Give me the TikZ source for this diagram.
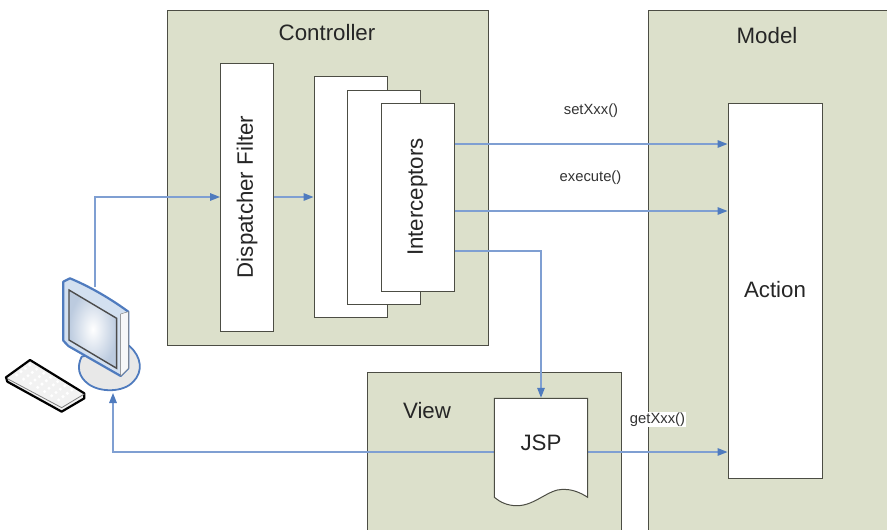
\documentclass[tikz,border=0pt]{standalone}
\usepackage{fontspec}
\setmainfont{Liberation Sans}
\usetikzlibrary{positioning, arrows.meta}
\definecolor{panelgreen}{HTML}{DCE0CB}
\definecolor{edgegrey}{HTML}{4C4D44}
\definecolor{flowblue}{HTML}{7F9FD2}
\definecolor{monitorblue}{HTML}{4F7BBE}
\definecolor{bezelblue}{HTML}{D3E0F0}
\definecolor{screenblue}{HTML}{BCCBDF}
\tikzset{
  panel/.style={rectangle, draw=edgegrey, fill=panelgreen, line width=1pt, inner sep=0pt},
  block/.style={rectangle, draw=edgegrey, fill=white, line width=1pt, inner sep=0pt},
  title/.style={font=\fontsize{22.3}{22.3}\selectfont, text=black!85, inner sep=0pt},
  call/.style={font=\fontsize{14.8}{14.8}\selectfont, text=black!80, inner sep=1pt},
  flow/.style={draw=flowblue, line width=1.5pt, -{Triangle[length=10pt, width=7.5pt, color=monitorblue]}}
}
\begin{document}
\begin{tikzpicture}[x=1pt, y=-1pt]
        \useasboundingbox (0, 0) rectangle (887, 530);

        \node[panel, minimum width = 321pt, minimum height = 335pt] (controller) at (327.5, 177.5) {};
        \node[panel, minimum width = 252pt, minimum height = 530pt] (model) at (774, 275) {};
        \node[panel, minimum width = 254pt, minimum height = 170pt] (view) at (494, 457) {};

        \node[block, minimum width = 53pt, minimum height = 268pt] (dispatcher) at (247, 197) {};
        \node[block, minimum width = 73pt, minimum height = 241pt] (interceptorsA) at (350.5, 197) {};
        \node[block, minimum width = 73pt, minimum height = 214pt] (interceptorsB) at (384, 197) {};
        \node[block, minimum width = 73pt, minimum height = 188pt] (interceptorsC) at (417.5, 197) {};
        \node[block, minimum width = 94pt, minimum height = 375pt] (action) at (775, 290.5) {};
        \node[minimum width = 94pt, minimum height = 108pt, inner sep=0pt] (jsp) at (541, 452) {};

        \coordinate (setLine) at (0, 144);
        \coordinate (executeLine) at (0, 211);
        \coordinate (viewLine) at (0, 251);
        \coordinate (userLine) at (0, 452);
        \coordinate (monitorTop) at (95, 287);
        \coordinate (monitorBase) at (113, 393);

        \draw[flow] (monitorTop) |- (dispatcher.west);
        \draw[flow] (dispatcher.east) -- (interceptorsA.west);
        \draw[flow] (interceptorsC.east |- setLine) -- (action.west |- setLine);
        \draw[flow] (interceptorsC.east |- executeLine) -- (action.west |- executeLine);
        \draw[flow] (interceptorsC.east |- viewLine) -| (jsp.north);
        \draw[flow] (jsp.west) -| (monitorBase);
        \draw[flow] (jsp.east) -- (action.west |- userLine);

        \draw[draw=edgegrey, fill=white, line width=1pt] (494.3, 398.3) -- (587.7, 398.3) -- (587.7, 497.3)
          .. controls (578, 491) and (570, 489.3) .. (563, 489.3)
          .. controls (548, 489.3) and (535, 505.7) .. (517, 505.7)
          .. controls (507, 505.7) and (500, 502) .. (494.3, 497.3) -- cycle;

        \node[title] (controllerLabel) at (327, 33) {Controller};
        \node[title] (modelLabel) at (767, 36) {Model};
        \node[title] (viewLabel) at (427, 411) {View};
        \node[title] (jspLabel) at (541, 443) {JSP};
        \node[title] (actionLabel) at (775, 290) {Action};
        \node[title, rotate=90] (dispatcherLabel) at (dispatcher) {Dispatcher Filter};
        \node[title, rotate=90] (interceptorsLabel) at (interceptorsC) {Interceptors};

        \node[call] (setLabel) at (591, 111) {setXxx()};
        \node[call] (executeLabel) at (590.5, 178) {execute()};
        \node[call, fill=white] (getLabel) at (657.5, 419.5) {getXxx()};

        \begin{scope}[shift={(0, 260)}, x=0.3333pt, y=-0.3333pt]
          \draw[monitorblue, line width=1.8pt, fill=black!9] (245, 290)
            .. controls (230, 320) and (235, 350) .. (265, 372)
            .. controls (300, 398) and (370, 398) .. (400, 365)
            .. controls (430, 335) and (425, 290) .. (388, 258) -- cycle;
          \draw[monitorblue, line width=2.2pt, fill=bezelblue, line join=round] (190, 65) -- (210, 55)
            .. controls (270, 80) and (330, 115) .. (385, 155) -- (385, 325) -- (362, 348)
            -- (205, 258) -- (190, 242) -- cycle;
          \draw[black!55, fill=bezelblue!80!black!10] (362, 162) -- (385, 155) -- (385, 325) -- (362, 348) -- cycle;
          \draw[black!70, line width=1.4pt, inner color=white, outer color=screenblue] (207, 90) -- (350, 175) -- (350, 325) -- (207, 240) -- cycle;
          \draw[black, line width=2.2pt, line join=round, fill=black!5] (18, 352) -- (90, 300) -- (253, 400) -- (253, 415)
            -- (185, 455) -- (22, 365) -- cycle;
          \draw[black!50, line width=0.8pt] (22, 356) -- (185, 443) -- (253, 402);
          \foreach \row in {0, 1, 2, 3} {
            \foreach \col in {0, 1, 2, 3, 4, 5, 6} {
              \fill[white] (50 + \row * 13 + \col * 21, 345 - \row * 10 + \col * 12.5) circle (5);
            }
          }
        \end{scope}
      \end{tikzpicture}
\end{document}
